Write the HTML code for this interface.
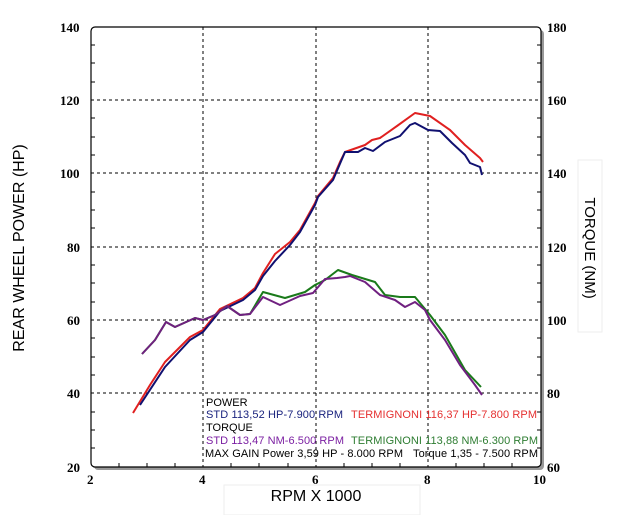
<!DOCTYPE html>
<html><head><meta charset="utf-8"><style>
body{margin:0;background:#fff;width:630px;height:515px;overflow:hidden}
</style></head><body>
<svg width="630" height="515" xmlns="http://www.w3.org/2000/svg" style="position:absolute;left:0;top:0">
<rect x="94" y="30" width="450" height="440" fill="#999" rx="4"/>
<rect x="91" y="27" width="450" height="440" fill="#fff" stroke="#000" stroke-width="1.2" rx="4"/>
<g stroke="#000" stroke-width="1" stroke-dasharray="3,3">
<line x1="203" y1="27" x2="203" y2="467"/><line x1="316" y1="27" x2="316" y2="467"/><line x1="428" y1="27" x2="428" y2="467"/>
<line x1="91" y1="100" x2="541" y2="100"/><line x1="91" y1="173" x2="541" y2="173"/><line x1="91" y1="247" x2="541" y2="247"/><line x1="91" y1="320" x2="541" y2="320"/><line x1="91" y1="393" x2="541" y2="393"/>
</g>
<g stroke="#000" stroke-width="1">
<path d="M91 45h4M91 63h4M91 82h4M91 118h4M91 137h4M91 155h4M91 192h4M91 210h4M91 228h4M91 265h4M91 283h4M91 302h4M91 338h4M91 357h4M91 375h4M91 412h4M91 430h4M91 448h4"/>
<path d="M541 45h-4M541 63h-4M541 82h-4M541 118h-4M541 137h-4M541 155h-4M541 192h-4M541 210h-4M541 228h-4M541 265h-4M541 283h-4M541 302h-4M541 338h-4M541 357h-4M541 375h-4M541 412h-4M541 430h-4M541 448h-4"/>
<path d="M119 467v-4M147 467v-4M175 467v-4M231 467v-4M259 467v-4M288 467v-4M344 467v-4M372 467v-4M400 467v-4M456 467v-4M484 467v-4M512 467v-4"/>
</g>
<g font-family="Liberation Serif,serif" font-weight="bold" font-size="13" fill="#000">
<text x="60" y="32">140</text><text x="60" y="105">120</text><text x="60" y="178">100</text><text x="67" y="252">80</text><text x="67" y="325">60</text><text x="67" y="398">40</text><text x="67" y="472">20</text>
<text x="547" y="32">180</text><text x="547" y="105">160</text><text x="547" y="178">140</text><text x="547" y="252">120</text><text x="547" y="325">100</text><text x="547" y="398">80</text><text x="547" y="472">60</text>
<text x="87" y="484">2</text><text x="199" y="484">4</text><text x="312" y="484">6</text><text x="424" y="484">8</text><text x="533" y="484">10</text>
</g>
<rect x="224" y="485" width="196" height="30" fill="#fff" stroke="#eee"/>
<text x="316" y="501" font-family="Liberation Sans,sans-serif" font-size="16" text-anchor="middle">RPM X 1000</text>
<text transform="translate(24,248) rotate(-90)" font-family="Liberation Sans,sans-serif" font-size="16" text-anchor="middle">REAR WHEEL POWER (HP)</text>
<rect x="578" y="160" width="24" height="172" fill="#fff" stroke="#eee"/>
<text transform="translate(585,248) rotate(90)" font-family="Liberation Sans,sans-serif" font-size="15" text-anchor="middle">TORQUE (NM)</text>
<g fill="none" stroke-width="2" stroke-linejoin="round">
<polyline stroke="#e02020" points="133,413 150,385 165,362 190,337 203,330 220,309 243,298 255,288 263,273 275,254 290,242 300,230 315,203 318,196 333,178 340,162 345,152 365,145 372,140 380,138 397,126 415,113 430,116 450,130 465,145 480,158 483,162"/>
<polyline stroke="#101070" points="140,405 165,367 190,340 203,332 220,311 243,300 255,290 263,276 275,261 290,245 300,232 315,205 318,197 333,180 345,152 358,152 365,148 373,151 385,142 400,136 410,125 415,123 428,130 440,131 452,143 465,155 470,163 480,167 482,175"/>
<polyline stroke="#1a7a1a" points="142,354 155,340 166,322 175,327 195,318 203,320 215,315 227,306 240,315 250,314 263,292 285,298 305,292 315,285 325,280 338,270 352,275 375,282 385,295 400,297 415,297 430,315 445,335 465,370 481,387"/>
<polyline stroke="#702080" points="142,354 155,340 166,322 175,327 195,318 203,320 215,315 227,306 240,315 250,314 263,297 280,305 300,296 313,293 325,279 337,278 345,277 350,276 365,282 380,295 395,300 405,307 415,302 425,310 430,320 445,340 460,365 475,385 482,395"/>
</g>
<g font-family="Liberation Sans,sans-serif" font-size="11">
<text x="206" y="406">POWER</text>
<text x="206" y="418" fill="#1a237e" textLength="137">STD 113,52 HP-7.900 RPM</text>
<text x="351" y="418" fill="#e53030" textLength="186">TERMIGNONI 116,37 HP-7.800 RPM</text>
<text x="206" y="431">TORQUE</text>
<text x="206" y="444" fill="#7b1fa2" textLength="138">STD 113,47 NM-6.500 RPM</text>
<text x="351" y="444" fill="#2e7d32" textLength="187">TERMIGNONI 113,88 NM-6.300 RPM</text>
<text x="205" y="457" textLength="198">MAX GAIN Power 3,59 HP - 8.000 RPM</text>
<text x="413" y="457" textLength="125">Torque 1,35 - 7.500 RPM</text>
</g>
</svg>
</body></html>
